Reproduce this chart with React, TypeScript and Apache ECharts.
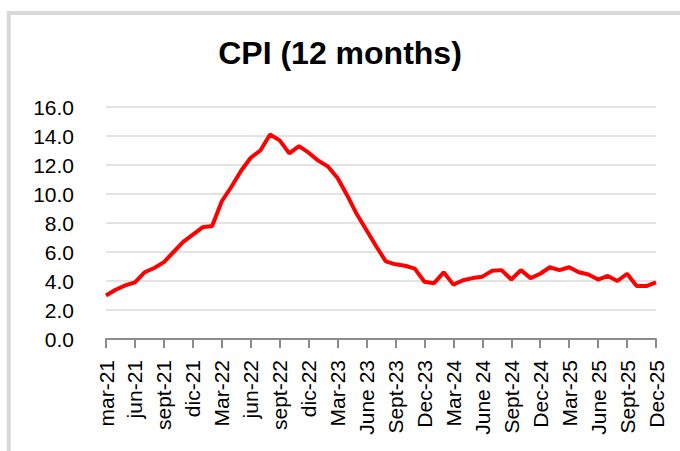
import React, { useEffect, useRef } from "react";
import * as echarts from "echarts";

const title = "CPI (12 months)";

const categories = [
  "mar-21", "abr-21", "may-21", "jun-21", "jul-21", "ago-21", "sept-21", "oct-21", "nov-21", "dic-21",
  "ene-22", "feb-22", "Mar-22", "abr-22", "may-22", "jun-22", "jul-22", "ago-22", "sept-22", "oct-22", "nov-22", "dic-22",
  "ene-23", "feb-23", "Mar-23", "Apr-23", "May-23", "June 23", "July 23", "Aug-23", "Sept-23", "Oct-23", "Nov-23", "Dec-23",
  "Jan-24", "Feb-24", "Mar-24", "Apr-24", "May-24", "June 24", "July 24", "Aug-24", "Sept-24", "Oct-24", "Nov-24", "Dec-24",
  "Jan-25", "Feb-25", "Mar-25", "Apr-25", "May-25", "June 25", "July 25", "Aug-25", "Sept-25", "Oct-25", "Nov-25", "Dec-25",
];

const cpi2021 = [3.0, 3.4, 3.7, 3.9, 4.6, 4.9, 5.3, 6.0, 6.7, 7.2];
const cpi2022 = [7.7, 7.8, 9.5, 10.5, 11.6, 12.5, 13.0, 14.1, 13.7, 12.8, 13.3, 12.85];
const cpi2023 = [12.3, 11.9, 11.1, 9.9, 8.6, 7.5, 6.4, 5.35, 5.15, 5.05, 4.85, 3.95];
const cpi2024 = [3.85, 4.6, 3.75, 4.05, 4.2, 4.3, 4.7, 4.75, 4.1, 4.75, 4.2, 4.5];
const cpi2025 = [4.95, 4.75, 4.95, 4.6, 4.45, 4.1, 4.35, 4.0, 4.5, 3.65, 3.65, 3.9];

const cpiValues = [...cpi2021, ...cpi2022, ...cpi2023, ...cpi2024, ...cpi2025];

const yTicks = { min: 0, max: 16, interval: 2 };

const FONT = "'Liberation Sans', Arial, Helvetica, sans-serif";

export default function App() {
  const ref = useRef<HTMLDivElement>(null);

  useEffect(() => {
    if (!ref.current) return;
    const chart = echarts.init(ref.current, null, { renderer: "svg" });
    chart.setOption({
      animation: false,
      backgroundColor: "#ffffff",
      title: {
        text: title,
        left: "center",
        top: 37,
        padding: [0, 0, 0, 16],
        textStyle: {
          fontFamily: FONT,
          fontSize: 32,
          fontWeight: "bold",
          color: "#000000",
        },
      },
      graphic: [
        {
          type: "rect",
          silent: true,
          shape: { x: 8.7, y: 13, width: 720, height: 480 },
          style: { fill: "none", stroke: "#d9d9d9", lineWidth: 4 },
        },
      ],
      grid: { left: 106, right: 24, top: 107, height: 232, containLabel: false },
      xAxis: {
        type: "category",
        data: categories,
        boundaryGap: false,
        axisLine: { show: true, lineStyle: { color: "#8c8c8c", width: 2 } },
        axisTick: {
          show: true,
          interval: 2,
          length: 9,
          lineStyle: { color: "#8c8c8c", width: 2 },
        },
        axisLabel: {
          interval: 2,
          rotate: 90,
          margin: 21,
          fontFamily: FONT,
          fontSize: 21,
          color: "#000000",
        },
        splitLine: { show: false },
      },
      yAxis: {
        type: "value",
        min: yTicks.min,
        max: yTicks.max,
        interval: yTicks.interval,
        axisLine: { show: false },
        axisTick: { show: false },
        axisLabel: {
          margin: 32,
          fontFamily: FONT,
          fontSize: 21,
          color: "#000000",
          formatter: (v: number) => v.toFixed(1),
        },
        splitLine: { show: true, lineStyle: { color: "#e3e3e3", width: 2 } },
      },
      series: [
        {
          type: "line",
          name: "CPI",
          data: cpiValues,
          symbol: "none",
          lineStyle: { color: "#ff0000", width: 4 },
          itemStyle: { color: "#ff0000" },
        },
      ],
    });
    return () => chart.dispose();
  }, []);

  return (
    <div
      ref={ref}
      style={{ position: "fixed", left: 0, top: 0, width: 680, height: 451, background: "#fff" }}
    />
  );
}
